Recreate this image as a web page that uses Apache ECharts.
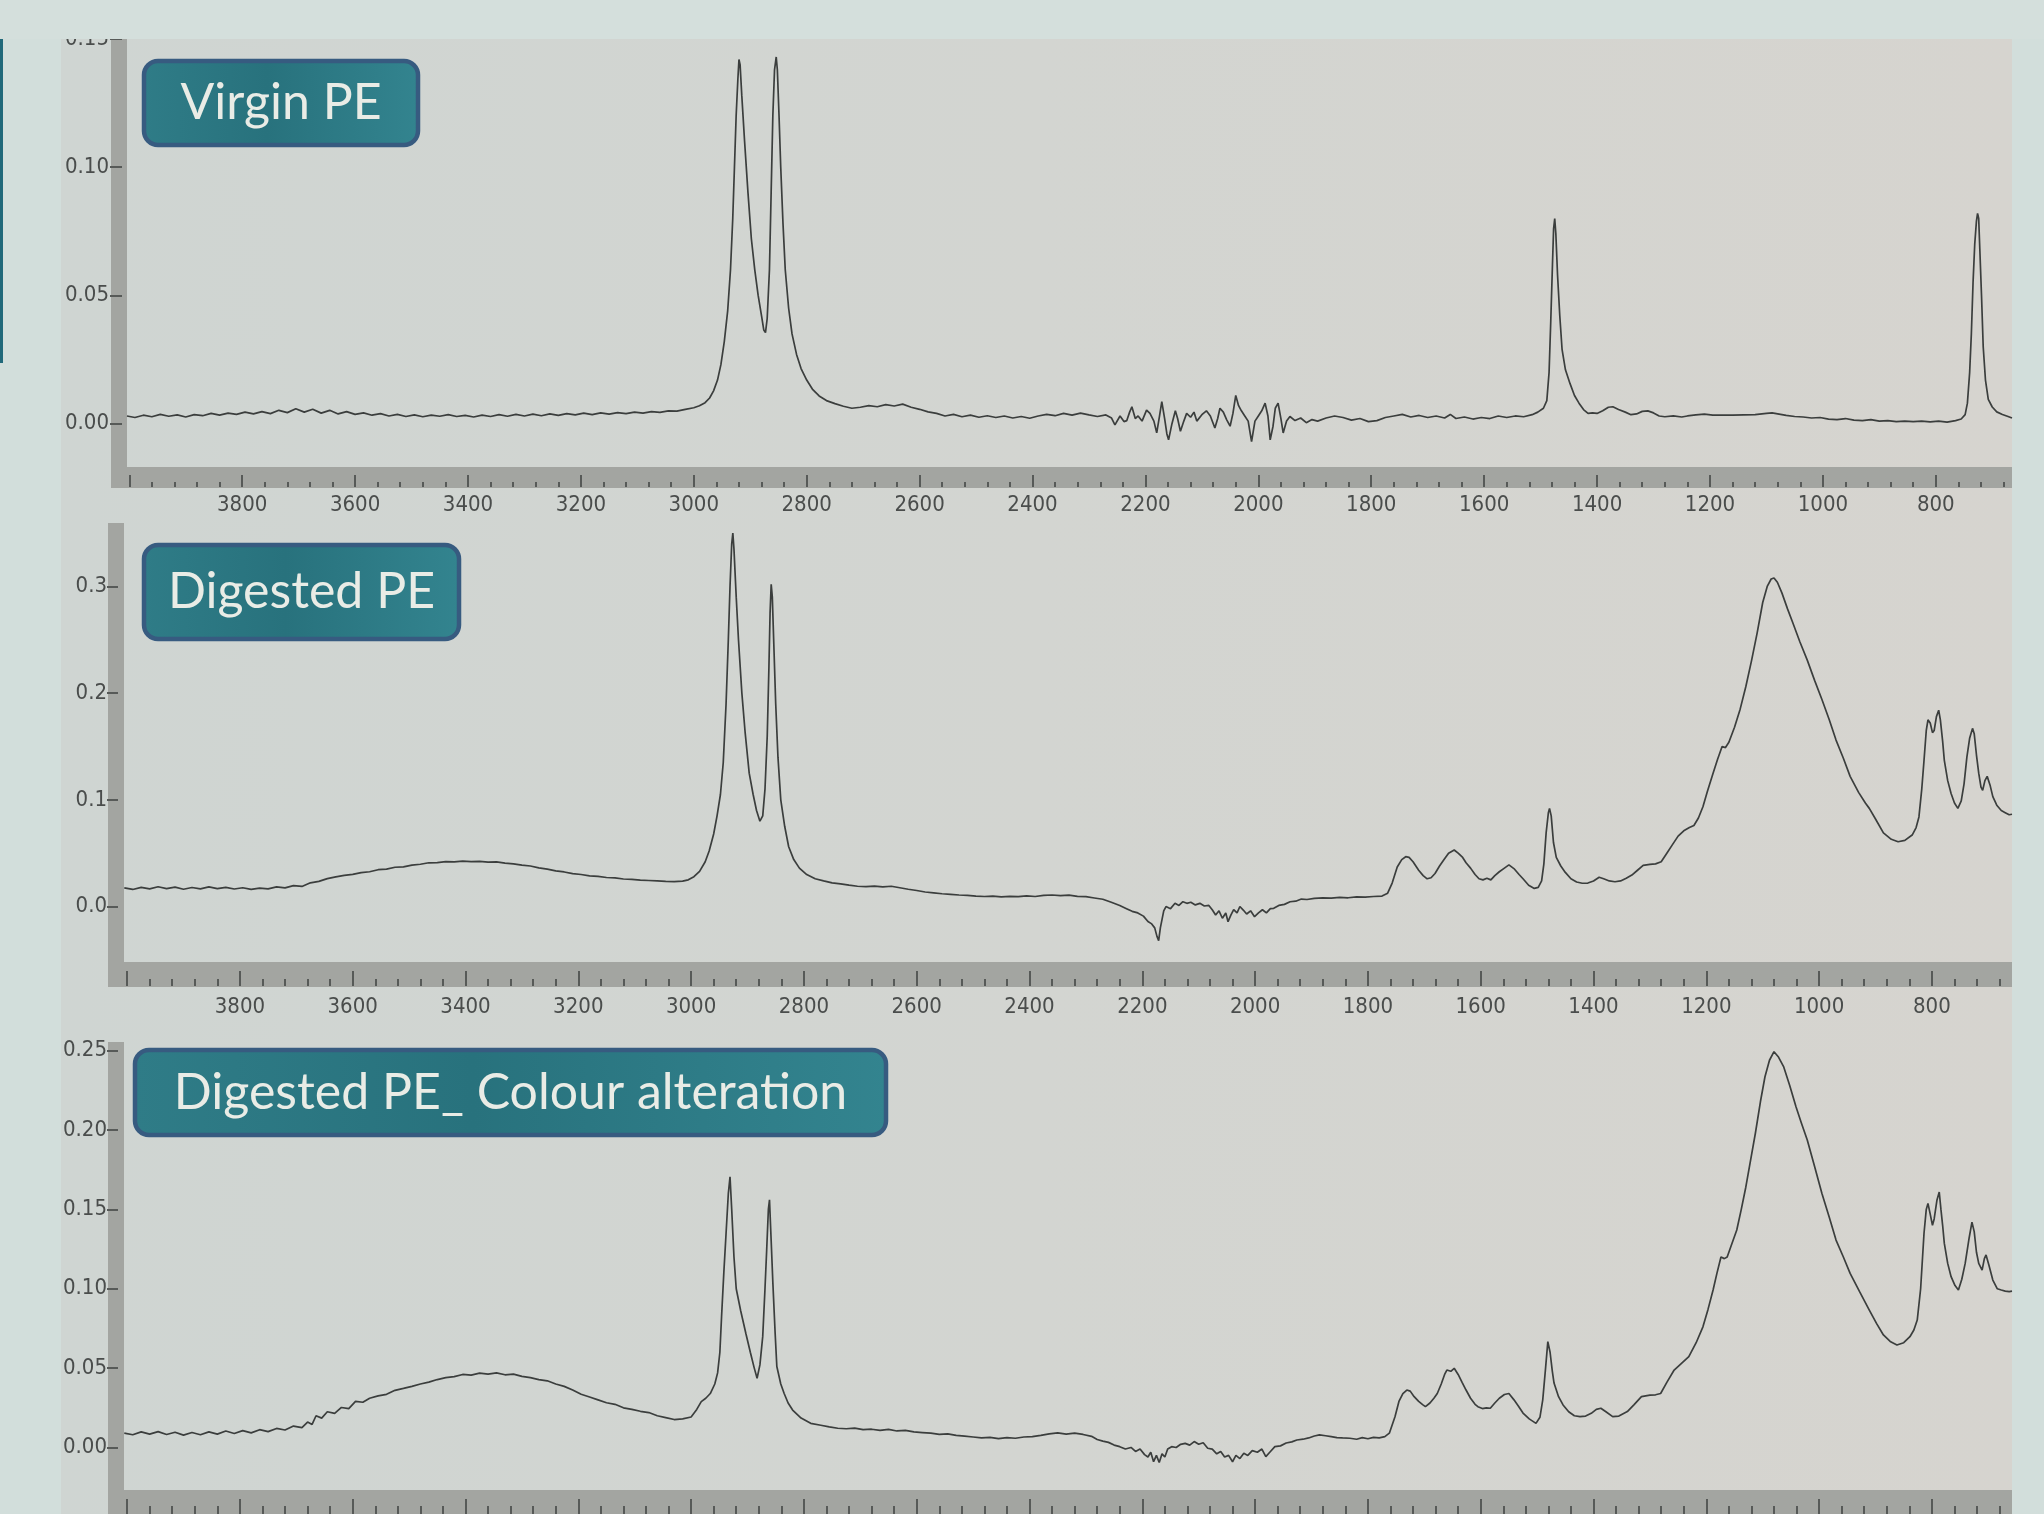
<!DOCTYPE html>
<html><head><meta charset="utf-8">
<script src="https://cdn.jsdelivr.net/npm/echarts@6.0.0/dist/echarts.min.js"></script>
<style>html,body{margin:0;padding:0;background:#d2dedb;}#c{width:2044px;height:1514px;}</style>
</head><body><div id="c"></div>
<script>
// ---------- data ----------
const titles = ['Virgin PE', 'Digested PE', 'Digested PE_ Colour alteration'];
const xTickValues = [4000,3800,3600,3400,3200,3000,2800,2600,2400,2200,2000,1800,1600,1400,1200,1000,800];
const xLabelValues = [3800,3600,3400,3200,3000,2800,2600,2400,2200,2000,1800,1600,1400,1200,1000,800];
const yTicksVirgin = [0, 0.05, 0.10, 0.15];
const yTicksDigested = [0, 0.1, 0.2, 0.3];
const yTicksColour = [0, 0.05, 0.10, 0.15, 0.20, 0.25];

const virginPE = [
[4004,0.0030],[3990,0.0024],[3975,0.0033],[3960,0.0027],[3945,0.0036],[3930,0.0029],[3915,0.0034],[3900,0.0026],[3885,0.0035],[3870,0.0031],
[3855,0.0040],[3840,0.0033],[3825,0.0041],[3810,0.0036],[3795,0.0045],[3780,0.0038],[3765,0.0047],[3750,0.0039],[3735,0.0052],[3720,0.0043],
[3705,0.0058],[3690,0.0045],[3675,0.0056],[3660,0.0041],[3645,0.0052],[3630,0.0038],[3615,0.0047],[3600,0.0036],[3585,0.0042],[3570,0.0033],
[3555,0.0039],[3540,0.0030],[3525,0.0036],[3510,0.0028],[3495,0.0034],[3480,0.0027],[3465,0.0033],[3450,0.0029],[3435,0.0035],[3420,0.0028],
[3405,0.0032],[3390,0.0026],[3375,0.0033],[3360,0.0028],[3345,0.0035],[3330,0.0029],[3315,0.0036],[3300,0.0030],[3285,0.0037],[3270,0.0031],
[3255,0.0038],[3240,0.0032],[3225,0.0039],[3210,0.0034],[3195,0.0041],[3180,0.0035],[3165,0.0042],[3150,0.0037],[3135,0.0043],[3120,0.0039],
[3105,0.0045],[3090,0.0041],[3075,0.0047],[3060,0.0044],[3045,0.0050],[3030,0.0049],[3015,0.0056],[3000,0.0062],[2990,0.0070],[2980,0.0082],
[2972,0.0100],[2965,0.0128],[2958,0.0170],[2952,0.0230],[2946,0.0320],[2940,0.0440],[2935,0.0600],[2931,0.0800],[2928,0.1000],[2925,0.1200],
[2922,0.1340],[2920,0.1420],[2918,0.1400],[2915,0.1280],[2910,0.1100],[2904,0.0900],[2898,0.0720],[2892,0.0600],[2886,0.0500],[2880,0.0420],
[2876,0.0365],[2873,0.0355],[2870,0.0410],[2866,0.0600],[2863,0.0900],[2860,0.1200],[2857,0.1380],[2854,0.1430],[2852,0.1380],[2849,0.1200],
[2846,0.1000],[2842,0.0780],[2838,0.0600],[2832,0.0450],[2826,0.0350],[2818,0.0270],[2810,0.0215],[2800,0.0170],[2790,0.0135],[2778,0.0108],
[2765,0.0090],[2750,0.0078],[2735,0.0068],[2720,0.0060],[2705,0.0064],[2690,0.0070],[2675,0.0066],[2660,0.0074],[2645,0.0069],[2630,0.0076],
[2615,0.0064],[2600,0.0056],[2585,0.0046],[2570,0.0040],[2555,0.0030],[2540,0.0036],[2525,0.0027],[2510,0.0033],[2495,0.0025],[2480,0.0031],
[2465,0.0024],[2450,0.0030],[2435,0.0022],[2420,0.0028],[2405,0.0021],[2390,0.0030],[2375,0.0036],[2360,0.0031],[2345,0.0040],[2330,0.0033],
[2315,0.0041],[2300,0.0034],[2285,0.0028],[2270,0.0034],[2260,0.0022],[2254,-0.0005],[2245,0.0030],[2238,0.0008],[2233,0.0012],[2228,0.0045],
[2224,0.0066],[2218,0.0020],[2213,0.0030],[2206,0.0010],[2198,0.0053],[2192,0.0040],[2185,0.0010],[2180,-0.0036],[2175,0.0030],[2171,0.0086],
[2166,0.0020],[2162,-0.0040],[2159,-0.0063],[2153,0.0000],[2147,0.0050],[2143,0.0020],[2138,-0.0030],[2132,0.0010],[2127,0.0040],[2120,0.0025],
[2114,0.0045],[2109,0.0010],[2100,0.0035],[2092,0.0050],[2085,0.0030],[2077,-0.0017],[2072,0.0020],[2068,0.0060],[2062,0.0045],[2056,0.0015],
[2050,-0.0010],[2045,0.0040],[2040,0.0110],[2035,0.0070],[2030,0.0050],[2024,0.0030],[2018,0.0010],[2012,-0.0070],[2006,0.0010],[2000,0.0030],
[1994,0.0050],[1988,0.0080],[1983,0.0030],[1979,-0.0063],[1974,-0.0010],[1970,0.0060],[1965,0.0080],[1960,0.0020],[1956,-0.0036],[1950,0.0010],
[1944,0.0028],[1935,0.0012],[1925,0.0022],[1915,0.0004],[1905,0.0016],[1895,0.0010],[1880,0.0022],[1865,0.0030],[1850,0.0024],[1835,0.0014],
[1820,0.0020],[1805,0.0008],[1790,0.0012],[1775,0.0024],[1760,0.0030],[1745,0.0036],[1730,0.0026],[1715,0.0032],[1700,0.0024],[1685,0.0030],
[1670,0.0022],[1660,0.0036],[1650,0.0020],[1635,0.0026],[1620,0.0018],[1605,0.0024],[1590,0.0020],[1575,0.0030],[1560,0.0024],[1545,0.0030],
[1530,0.0027],[1515,0.0035],[1505,0.0045],[1495,0.0060],[1489,0.0090],[1485,0.0200],[1482,0.0400],[1479,0.0620],[1477,0.0760],[1475,0.0800],
[1473,0.0740],[1470,0.0580],[1466,0.0420],[1462,0.0290],[1456,0.0210],[1448,0.0157],[1440,0.0110],[1432,0.0080],[1424,0.0055],[1416,0.0040],
[1408,0.0042],[1400,0.0040],[1390,0.0050],[1380,0.0064],[1372,0.0066],[1362,0.0055],[1350,0.0045],[1340,0.0035],[1330,0.0038],[1320,0.0048],
[1310,0.0050],[1300,0.0042],[1290,0.0030],[1280,0.0027],[1265,0.0030],[1250,0.0026],[1240,0.0030],[1225,0.0034],[1210,0.0037],[1195,0.0033],
[1180,0.0033],[1160,0.0033],[1140,0.0034],[1120,0.0035],[1100,0.0040],[1090,0.0042],[1080,0.0038],[1065,0.0032],[1050,0.0028],[1035,0.0026],
[1020,0.0022],[1005,0.0024],[990,0.0018],[975,0.0016],[960,0.0020],[945,0.0014],[930,0.0012],[915,0.0016],[900,0.0010],[885,0.0012],
[870,0.0008],[855,0.0010],[840,0.0008],[825,0.0010],[810,0.0007],[795,0.0010],[780,0.0006],[765,0.0012],[755,0.0018],[748,0.0035],
[744,0.0080],[740,0.0200],[737,0.0350],[734,0.0550],[731,0.0700],[728,0.0790],[726,0.0820],[724,0.0800],[722,0.0680],[719,0.0500],
[716,0.0300],[712,0.0170],[707,0.0095],[700,0.0065],[692,0.0046],[682,0.0036],[672,0.0028],[665,0.0022]
];

const digestedPE = [
[4005,0.0175],[3990,0.0160],[3975,0.0180],[3960,0.0165],[3945,0.0185],[3930,0.0168],[3915,0.0182],[3900,0.0162],[3885,0.0178],[3870,0.0165],
[3855,0.0184],[3840,0.0168],[3825,0.0180],[3810,0.0164],[3795,0.0176],[3780,0.0160],[3765,0.0172],[3750,0.0166],[3735,0.0184],[3720,0.0175],
[3705,0.0196],[3690,0.0188],[3675,0.0222],[3660,0.0236],[3645,0.0262],[3630,0.0278],[3615,0.0292],[3600,0.0302],[3585,0.0318],[3570,0.0326],
[3555,0.0345],[3540,0.0350],[3525,0.0368],[3510,0.0372],[3495,0.0388],[3480,0.0396],[3465,0.0410],[3450,0.0412],[3435,0.0420],[3420,0.0418],
[3405,0.0425],[3390,0.0420],[3375,0.0424],[3360,0.0416],[3345,0.0418],[3330,0.0406],[3315,0.0400],[3300,0.0388],[3285,0.0380],[3270,0.0362],
[3255,0.0350],[3240,0.0334],[3225,0.0324],[3210,0.0308],[3195,0.0300],[3180,0.0288],[3165,0.0282],[3150,0.0272],[3135,0.0268],[3120,0.0258],
[3105,0.0255],[3090,0.0248],[3075,0.0244],[3060,0.0240],[3045,0.0236],[3030,0.0234],[3015,0.0238],[3005,0.0250],[2995,0.0280],[2985,0.0330],
[2975,0.0420],[2968,0.0520],[2960,0.0680],[2954,0.0850],[2948,0.1050],[2943,0.1350],[2938,0.1900],[2934,0.2500],[2931,0.3000],[2928,0.3400],
[2926,0.3500],[2924,0.3350],[2920,0.2900],[2916,0.2500],[2910,0.2000],[2904,0.1620],[2897,0.1250],[2890,0.1050],[2884,0.0900],[2878,0.0800],
[2873,0.0850],[2869,0.1100],[2865,0.1600],[2862,0.2250],[2860,0.2750],[2858,0.3020],[2856,0.2900],[2853,0.2400],[2850,0.1900],[2846,0.1400],
[2841,0.1000],[2834,0.0750],[2827,0.0560],[2818,0.0440],[2808,0.0360],[2795,0.0300],[2780,0.0260],[2765,0.0240],[2750,0.0222],[2735,0.0212],
[2720,0.0200],[2705,0.0190],[2690,0.0186],[2675,0.0192],[2660,0.0184],[2645,0.0190],[2630,0.0176],[2615,0.0162],[2600,0.0150],[2585,0.0136],
[2570,0.0128],[2555,0.0120],[2540,0.0114],[2525,0.0108],[2510,0.0104],[2495,0.0098],[2480,0.0094],[2465,0.0098],[2450,0.0090],[2435,0.0096],
[2420,0.0092],[2405,0.0100],[2390,0.0094],[2375,0.0104],[2360,0.0108],[2345,0.0102],[2330,0.0106],[2315,0.0096],[2300,0.0092],[2285,0.0080],
[2270,0.0068],[2255,0.0040],[2240,0.0010],[2228,-0.0020],[2218,-0.0045],[2208,-0.0060],[2198,-0.0090],[2190,-0.0140],[2184,-0.0160],[2178,-0.0200],
[2174,-0.0280],[2171,-0.0320],[2168,-0.0200],[2165,-0.0120],[2162,-0.0040],[2158,0.0000],[2150,-0.0020],[2142,0.0030],[2135,0.0010],[2128,0.0045],
[2121,0.0030],[2114,0.0040],[2106,0.0015],[2098,0.0030],[2090,0.0005],[2082,0.0010],[2076,-0.0030],[2070,-0.0080],[2064,-0.0040],[2058,-0.0110],
[2052,-0.0060],[2048,-0.0142],[2043,-0.0080],[2038,-0.0030],[2032,-0.0060],[2027,0.0000],[2021,-0.0033],[2015,-0.0070],[2008,-0.0040],[2001,-0.0095],
[1994,-0.0060],[1987,-0.0030],[1980,-0.0060],[1973,-0.0020],[1967,-0.0017],[1958,0.0010],[1948,0.0020],[1938,0.0045],[1928,0.0050],[1918,0.0070],
[1908,0.0066],[1895,0.0077],[1880,0.0082],[1865,0.0078],[1850,0.0086],[1835,0.0082],[1820,0.0090],[1805,0.0088],[1790,0.0094],[1775,0.0098],
[1765,0.0125],[1757,0.0220],[1748,0.0370],[1740,0.0440],[1733,0.0467],[1727,0.0460],[1720,0.0420],[1710,0.0340],[1702,0.0290],[1695,0.0260],
[1688,0.0270],[1681,0.0310],[1673,0.0380],[1665,0.0440],[1657,0.0500],[1647,0.0530],[1640,0.0500],[1632,0.0460],[1626,0.0410],[1618,0.0360],
[1610,0.0300],[1603,0.0260],[1596,0.0250],[1589,0.0265],[1582,0.0250],[1575,0.0290],[1567,0.0326],[1558,0.0360],[1550,0.0390],[1540,0.0350],
[1532,0.0300],[1525,0.0260],[1515,0.0200],[1505,0.0170],[1498,0.0180],[1492,0.0240],[1488,0.0400],[1484,0.0690],[1480,0.0880],[1478,0.0920],
[1475,0.0850],[1471,0.0600],[1466,0.0460],[1458,0.0380],[1450,0.0320],[1440,0.0260],[1430,0.0230],[1420,0.0218],[1410,0.0220],[1400,0.0240],
[1390,0.0275],[1382,0.0260],[1372,0.0240],[1362,0.0232],[1352,0.0240],[1342,0.0265],[1332,0.0295],[1322,0.0340],[1312,0.0385],[1300,0.0395],
[1290,0.0400],[1280,0.0420],[1270,0.0500],[1260,0.0580],[1250,0.0660],[1240,0.0710],[1230,0.0740],[1222,0.0760],[1214,0.0830],[1206,0.0935],
[1198,0.1080],[1188,0.1250],[1180,0.1380],[1172,0.1500],[1166,0.1490],[1160,0.1540],[1150,0.1680],[1140,0.1850],[1130,0.2060],[1120,0.2300],
[1110,0.2560],[1100,0.2850],[1092,0.3000],[1085,0.3070],[1080,0.3080],[1074,0.3040],[1066,0.2940],[1056,0.2790],[1046,0.2650],[1034,0.2480],
[1021,0.2310],[1008,0.2120],[995,0.1940],[982,0.1750],[970,0.1560],[957,0.1390],[945,0.1220],[930,0.1070],[918,0.0970],[911,0.0920],
[900,0.0820],[886,0.0690],[872,0.0630],[860,0.0607],[848,0.0620],[835,0.0670],[828,0.0740],[823,0.0840],[818,0.1100],[814,0.1370],
[810,0.1650],[807,0.1750],[803,0.1720],[799,0.1630],[796,0.1650],[792,0.1780],[788,0.1840],[785,0.1750],[781,0.1550],[778,0.1370],
[772,0.1180],[766,0.1060],[760,0.0970],[754,0.0920],[748,0.0990],[743,0.1150],[738,0.1400],[733,0.1580],[728,0.1670],[725,0.1620],
[721,0.1420],[717,0.1250],[713,0.1120],[710,0.1090],[706,0.1180],[702,0.1220],[697,0.1140],[692,0.1030],[685,0.0950],[677,0.0900],
[670,0.0880],[663,0.0860],[658,0.0865]
];

const colourPE = [
[4005,0.0090],[3990,0.0080],[3975,0.0098],[3960,0.0084],[3945,0.0100],[3930,0.0082],[3915,0.0096],[3900,0.0078],[3885,0.0094],[3870,0.0080],
[3855,0.0098],[3840,0.0084],[3825,0.0104],[3810,0.0088],[3795,0.0106],[3780,0.0092],[3765,0.0112],[3750,0.0100],[3735,0.0120],[3720,0.0110],
[3705,0.0135],[3690,0.0125],[3680,0.0160],[3672,0.0145],[3665,0.0200],[3655,0.0185],[3645,0.0225],[3632,0.0215],[3620,0.0252],[3607,0.0245],
[3595,0.0290],[3582,0.0285],[3570,0.0310],[3555,0.0325],[3540,0.0335],[3525,0.0360],[3510,0.0372],[3495,0.0385],[3480,0.0400],[3465,0.0412],
[3450,0.0428],[3435,0.0440],[3420,0.0446],[3405,0.0460],[3390,0.0456],[3375,0.0468],[3360,0.0462],[3345,0.0470],[3330,0.0458],[3315,0.0462],
[3300,0.0448],[3285,0.0440],[3270,0.0428],[3255,0.0420],[3240,0.0400],[3225,0.0385],[3210,0.0362],[3195,0.0335],[3180,0.0318],[3165,0.0300],
[3150,0.0282],[3135,0.0272],[3120,0.0250],[3105,0.0240],[3090,0.0228],[3075,0.0220],[3060,0.0200],[3045,0.0188],[3030,0.0176],[3015,0.0180],
[3000,0.0192],[2990,0.0240],[2982,0.0289],[2974,0.0310],[2966,0.0340],[2958,0.0400],[2953,0.0470],[2949,0.0600],[2946,0.0824],[2942,0.1100],
[2938,0.1350],[2934,0.1600],[2931,0.1706],[2928,0.1500],[2924,0.1200],[2920,0.1000],[2912,0.0860],[2903,0.0720],[2895,0.0600],[2888,0.0500],
[2883,0.0436],[2878,0.0520],[2873,0.0700],[2869,0.1000],[2866,0.1244],[2863,0.1500],[2861,0.1560],[2858,0.1300],[2855,0.1034],[2851,0.0720],
[2848,0.0510],[2841,0.0400],[2835,0.0340],[2828,0.0280],[2820,0.0236],[2805,0.0185],[2788,0.0152],[2770,0.0140],[2755,0.0130],[2740,0.0121],
[2725,0.0118],[2710,0.0122],[2695,0.0112],[2680,0.0115],[2665,0.0108],[2650,0.0114],[2635,0.0104],[2620,0.0108],[2605,0.0098],[2590,0.0094],
[2575,0.0090],[2560,0.0082],[2545,0.0086],[2530,0.0076],[2515,0.0072],[2500,0.0066],[2485,0.0060],[2470,0.0064],[2455,0.0056],[2440,0.0062],
[2425,0.0058],[2410,0.0066],[2395,0.0068],[2380,0.0076],[2365,0.0086],[2350,0.0092],[2335,0.0084],[2320,0.0090],[2305,0.0082],[2290,0.0070],
[2280,0.0050],[2270,0.0040],[2260,0.0032],[2250,0.0015],[2240,0.0005],[2230,-0.0010],[2220,0.0000],[2212,-0.0025],[2204,-0.0010],[2196,-0.0045],
[2190,-0.0060],[2185,-0.0030],[2180,-0.0090],[2175,-0.0050],[2170,-0.0095],[2165,-0.0040],[2160,-0.0060],[2155,-0.0010],[2148,0.0005],[2140,0.0000],
[2132,0.0020],[2124,0.0026],[2116,0.0015],[2108,0.0037],[2100,0.0020],[2092,0.0030],[2084,-0.0005],[2076,-0.0010],[2068,-0.0040],[2061,-0.0025],
[2054,-0.0060],[2047,-0.0050],[2040,-0.0090],[2034,-0.0050],[2027,-0.0070],[2020,-0.0037],[2013,-0.0050],[2005,-0.0020],[1996,-0.0030],[1988,-0.0010],
[1981,-0.0058],[1974,-0.0030],[1965,0.0005],[1955,0.0010],[1945,0.0028],[1935,0.0035],[1926,0.0047],[1915,0.0052],[1905,0.0060],[1895,0.0072],
[1886,0.0079],[1875,0.0074],[1865,0.0068],[1855,0.0062],[1845,0.0060],[1832,0.0058],[1820,0.0052],[1810,0.0062],[1800,0.0055],[1790,0.0064],
[1780,0.0060],[1770,0.0068],[1762,0.0090],[1752,0.0194],[1745,0.0290],[1738,0.0340],[1731,0.0362],[1725,0.0355],[1718,0.0320],[1710,0.0290],
[1703,0.0270],[1698,0.0257],[1690,0.0280],[1683,0.0310],[1677,0.0340],[1670,0.0400],[1664,0.0460],[1660,0.0488],[1653,0.0480],[1647,0.0499],
[1640,0.0460],[1633,0.0410],[1626,0.0362],[1618,0.0310],[1610,0.0272],[1605,0.0257],[1597,0.0245],[1590,0.0250],[1583,0.0247],[1575,0.0280],
[1567,0.0310],[1558,0.0334],[1550,0.0340],[1541,0.0300],[1533,0.0260],[1525,0.0217],[1514,0.0180],[1502,0.0152],[1495,0.0190],[1490,0.0300],
[1485,0.0500],[1481,0.0667],[1477,0.0600],[1473,0.0480],[1470,0.0406],[1462,0.0320],[1454,0.0268],[1444,0.0225],[1434,0.0200],[1424,0.0194],
[1414,0.0198],[1404,0.0215],[1395,0.0240],[1387,0.0247],[1378,0.0225],[1366,0.0194],[1355,0.0198],[1340,0.0226],[1328,0.0270],[1315,0.0320],
[1300,0.0330],[1290,0.0332],[1281,0.0340],[1270,0.0410],[1257,0.0488],[1244,0.0530],[1231,0.0572],[1218,0.0660],[1206,0.0760],[1197,0.0870],
[1188,0.0992],[1181,0.1100],[1174,0.1200],[1168,0.1190],[1163,0.1200],[1155,0.1280],[1146,0.1370],[1138,0.1500],[1130,0.1640],[1121,0.1820],
[1113,0.1980],[1104,0.2180],[1096,0.2336],[1088,0.2440],[1080,0.2494],[1072,0.2460],[1063,0.2400],[1052,0.2280],[1041,0.2147],[1031,0.2040],
[1021,0.1937],[1008,0.1770],[995,0.1600],[982,0.1450],[970,0.1307],[957,0.1200],[945,0.1097],[928,0.0980],[911,0.0866],[898,0.0780],
[886,0.0709],[874,0.0668],[862,0.0646],[850,0.0660],[839,0.0698],[832,0.0740],[826,0.0803],[820,0.1000],[814,0.1350],[810,0.1500],
[807,0.1538],[803,0.1470],[799,0.1400],[796,0.1440],[791,0.1560],[787,0.1610],[784,0.1500],[781,0.1400],[778,0.1286],[772,0.1160],
[766,0.1076],[759,0.1020],[753,0.0992],[747,0.1060],[741,0.1160],[734,0.1320],[729,0.1420],[725,0.1360],[721,0.1230],[717,0.1160],
[711,0.1118],[707,0.1190],[704,0.1213],[699,0.1150],[692,0.1055],[684,0.1000],[677,0.0992],[670,0.0985],[663,0.0982],[658,0.0985]
];

// minor ticks every 40 cm-1 between the labelled ticks
const minorTickValues = [];
xTickValues.forEach(function (v) { for (let k = 1; k < 5; k++) { const m = v - 40 * k; if (m >= 680) minorTickValues.push(m); } });

// ---------- layout / style ----------
const barColor = '#a3a5a1';
const tickColor = '#575a58';
const labelColor = '#4a4d4c';
const narrow = "'Liberation Sans Narrow', 'DejaVu Sans Condensed', 'Arial Narrow', sans-serif";
const labelSize = 22;

const panels = [
  {top: 39, height: 428, left: 127, bar: 21, xMin: 665, xMax: 4004, yMin: -0.0169, yMax: 0.15, yTicks: yTicksVirgin, dec: 2,
   yTickOff: 5, yTickLen: 12, yLabMargin: 13, majLen: 12, minLen: 5, xLabMargin: 7, showX: true, data: virginPE,
   box: {x: 142, y: 59, w: 278, h: 88}},
  {top: 523, height: 439, left: 124, bar: 25, xMin: 658, xMax: 4005.5, yMin: -0.052, yMax: 0.3595, yTicks: yTicksDigested, dec: 1,
   yTickOff: 6, yTickLen: 11, yLabMargin: 11, majLen: 15, minLen: 7, xLabMargin: 10, showX: true, data: digestedPE,
   box: {x: 142, y: 543, w: 319, h: 98}},
  {top: 1042, height: 448, left: 124, bar: 25, xMin: 658, xMax: 4005.5, yMin: -0.0268, yMax: 0.2555, yTicks: yTicksColour, dec: 2,
   yTickOff: 6, yTickLen: 11, yLabMargin: 11, majLen: 15, minLen: 8, xLabMargin: 10, showX: false, data: colourPE,
   box: {x: 133, y: 1048, w: 755, h: 89}}
];

const grid = [], xAxis = [], yAxis = [], series = [];
const graphic = [
  {type: 'rect', z: -10, silent: true, shape: {x: 61, y: 39, width: 1951, height: 1475},
   style: {fill: {type: 'linear', x: 0, y: 0, x2: 1, y2: 0, colorStops: [
     {offset: 0, color: '#cfd5d2'}, {offset: 0.5, color: '#d3d5d1'}, {offset: 1, color: '#d6d4cf'}]}}},
  {type: 'rect', z: 50, silent: true, shape: {x: 0, y: 0, width: 2044, height: 39}, style: {fill: '#d4dfdc'}},
  {type: 'rect', z: 50, silent: true, shape: {x: 0, y: 39, width: 3, height: 324}, style: {fill: '#21697a'}}
];

panels.forEach(function (p, i) {
  grid.push({left: p.left, top: p.top, height: p.height, right: 32});
  const bottom = p.top + p.height;
  const xi = xAxis.length, yi = yAxis.length;
  const xBase = {gridIndex: i, type: 'value', inverse: true, min: p.xMin, max: p.xMax, position: 'bottom', splitLine: {show: false}};
  // bar
  xAxis.push(Object.assign({}, xBase, {offset: p.bar / 2,
    axisLine: {show: true, onZero: false, lineStyle: {color: barColor, width: p.bar, cap: 'butt'}},
    axisTick: {show: false}, axisLabel: {show: false}}));
  // major ticks + labels
  xAxis.push(Object.assign({}, xBase, {offset: p.bar - 1,
    axisLine: {show: false, onZero: false},
    axisTick: {show: true, inside: true, length: p.majLen, customValues: xTickValues, lineStyle: {color: tickColor, width: 2}},
    axisLabel: {show: p.showX, customValues: xLabelValues, margin: p.xLabMargin, color: labelColor, fontFamily: narrow, fontSize: labelSize,
      formatter: function (v) { return String(Math.round(v)); }}}));
  // minor ticks
  xAxis.push(Object.assign({}, xBase, {offset: p.bar - 1,
    axisLine: {show: false, onZero: false},
    axisTick: {show: true, inside: true, length: p.minLen, customValues: minorTickValues, lineStyle: {color: tickColor, width: 2}},
    axisLabel: {show: false}}));

  const yBase = {gridIndex: i, type: 'value', min: p.yMin, max: p.yMax, position: 'left', splitLine: {show: false}};
  yAxis.push(Object.assign({}, yBase, {offset: 8,
    axisLine: {show: true, onZero: false, lineStyle: {color: barColor, width: 16, cap: 'butt'}},
    axisTick: {show: false}, axisLabel: {show: false}}));
  yAxis.push(Object.assign({}, yBase, {offset: p.yTickOff,
    axisLine: {show: false, onZero: false},
    axisTick: {show: true, inside: false, length: p.yTickLen, customValues: p.yTicks, lineStyle: {color: tickColor, width: 2}},
    axisLabel: {show: true, customValues: p.yTicks, margin: p.yLabMargin, color: labelColor, fontFamily: narrow, fontSize: labelSize,
      formatter: (function (d) { return function (v) { return Number(v).toFixed(d); }; })(p.dec)}}));

  series.push({type: 'line', name: titles[i], xAxisIndex: xi, yAxisIndex: yi, data: p.data,
    showSymbol: false, symbol: 'none', smooth: false, clip: true, z: 3, silent: true,
    lineStyle: {color: '#3b3e3d', width: 1.7}});

  // corner of the two bars
  graphic.push({type: 'rect', z: 1, silent: true, shape: {x: p.left - 16, y: bottom, width: 16, height: p.bar}, style: {fill: barColor}});

  // title box
  const b = p.box;
  graphic.push({type: 'rect', z: 60, silent: true, shape: {x: b.x + 2, y: b.y + 2, width: b.w - 4, height: b.h - 4, r: 14},
    style: {fill: {type: 'linear', x: 0, y: 0, x2: 1, y2: 0, colorStops: [
      {offset: 0, color: '#2f7c87'}, {offset: 0.45, color: '#28727d'}, {offset: 1, color: '#33848f'}]},
      stroke: '#375b80', lineWidth: 4.5}});
  graphic.push({type: 'text', z: 61, silent: true,
    style: {text: titles[i], x: b.x + b.w / 2, y: b.y + b.h / 2, align: 'center', verticalAlign: 'middle',
      textAlign: 'center', textVerticalAlign: 'middle', fill: '#e9ece6', fontFamily: 'Lato', fontSize: 50}});
});

const chart = echarts.init(document.getElementById('c'), null, {renderer: 'canvas', width: 2044, height: 1514});
chart.setOption({
  backgroundColor: '#d2dedb',
  animation: false,
  grid: grid, xAxis: xAxis, yAxis: yAxis, series: series, graphic: graphic
});
</script></body></html>
